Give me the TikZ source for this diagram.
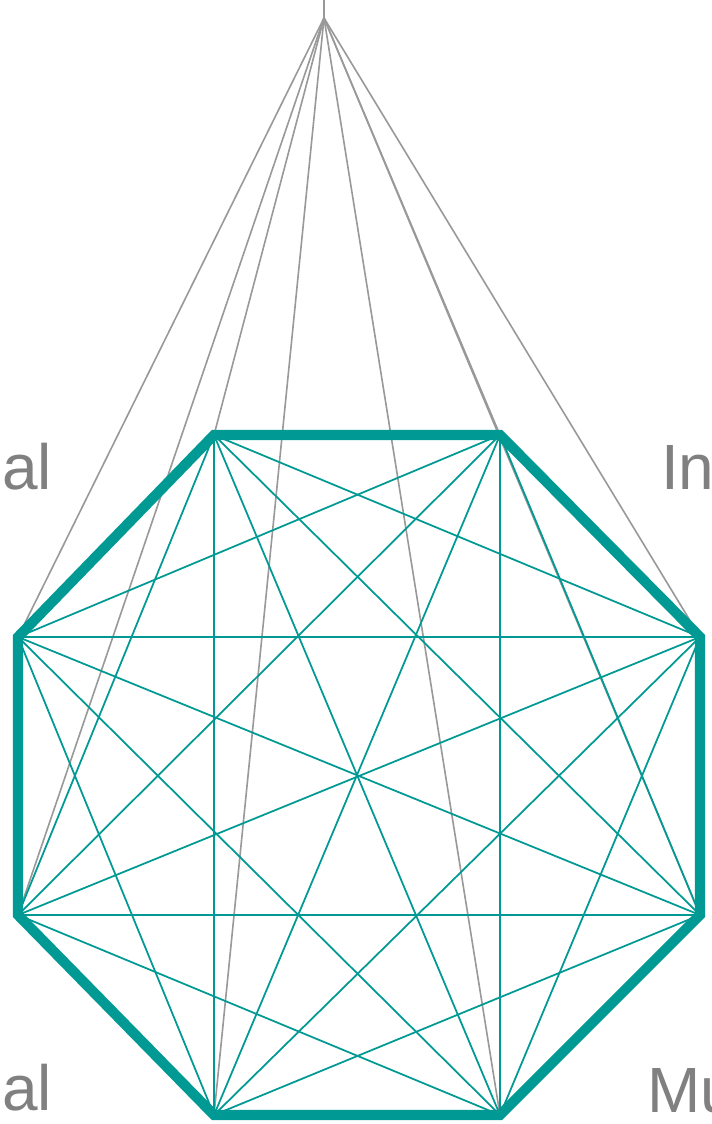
\documentclass[tikz,border=0pt]{standalone}
\usepackage{fontspec}
\setmainfont{Liberation Sans}
\usetikzlibrary{calc}
\definecolor{octteal}{RGB}{0,153,148}
\definecolor{spokegray}{RGB}{153,153,153}
\definecolor{lblgray}{RGB}{128,128,128}

\begin{document}
\begin{tikzpicture}[
  x=0.05cm, y=-0.05cm,
  rim/.style={draw=octteal, line width=14.5pt, line join=miter},
  diag/.style={draw=octteal, line width=2.5pt},
  spoke/.style={draw=spokegray, line width=2.3pt},
  lbl/.style={text=lblgray, inner sep=0pt, font=\fontsize{91}{100}\selectfont}
]
\useasboundingbox (0,0) rectangle (712,1124);
% octagon corners
\coordinate (v1) at (214,435);
\coordinate (v2) at (500,435);
\coordinate (v3) at (700,637);
\coordinate (v4) at (700,915);
\coordinate (v5) at (500,1115);
\coordinate (v6) at (214,1115);
\coordinate (v7) at (18,915);
\coordinate (v8) at (18,637);
\coordinate (apex) at (324,18);
\coordinate (tip) at (324,-2);
% spokes from the apex
\draw[spoke] (apex) -- (tip);
\foreach \i in {1,...,8} \draw[spoke] (apex) -- (v\i);
% thick rim
\draw[rim] (v1) -- (v2) -- (v3) -- (v4) -- (v5) -- (v6) -- (v7) -- (v8) -- cycle;
% all diagonals
\foreach \i in {1,...,7}{
  \pgfmathtruncatemacro{\j}{\i+1}
  \foreach \k in {\j,...,8} \draw[diag] (v\i) -- (v\k);
}
% cut-off labels
\node[lbl, anchor=base east] (ltop) at (52,489) {al};
\node[lbl, anchor=base west] (rtop) at (661,489) {In};
\node[lbl, anchor=base east] (lbot) at (52,1110) {al};
\node[lbl, anchor=base west] (rbot) at (647,1112) {Mu};
\end{tikzpicture}
\end{document}
